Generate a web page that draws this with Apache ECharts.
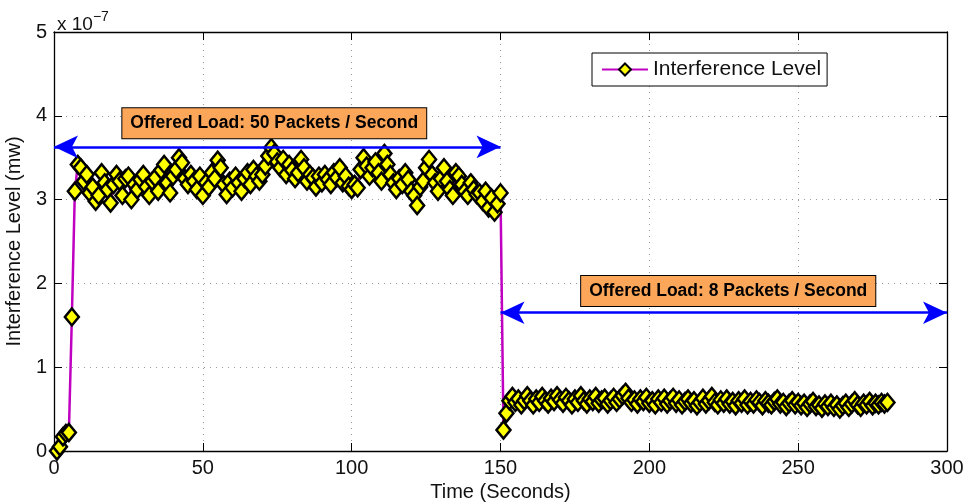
<!DOCTYPE html>
<html>
<head>
<meta charset="utf-8">
<script src="https://cdn.jsdelivr.net/npm/echarts@6/dist/echarts.min.js"></script>
<style>
  html, body { margin: 0; padding: 0; background: #fff; }
  #chart { width: 970px; height: 504px; }
</style>
</head>
<body>
<div id="chart"></div>
<script>
// Sample times (seconds) and interference level (units of 1e-7 mW)
const times = [];
for (let t = 1; t <= 280; t++) times.push(t);

const interference = [
  0.00, 0.05, 0.17, 0.21, 0.22, 1.60, 3.10, 3.42, 3.38, 3.22,
  3.30, 3.08, 3.15, 2.98, 3.05, 3.32, 3.20, 3.12, 2.96, 3.18,
  3.30, 3.22, 3.05, 3.25, 3.28, 3.00, 3.18, 3.12, 3.24, 3.30,
  3.15, 3.05, 3.22, 3.26, 3.10, 3.35, 3.42, 3.20, 3.08, 3.28,
  3.36, 3.50, 3.44, 3.25, 3.18, 3.30, 3.22, 3.12, 3.28, 3.05,
  3.20, 3.15, 3.32, 3.25, 3.47, 3.38, 3.18, 3.06, 3.22, 3.14,
  3.28, 3.20, 3.10, 3.25, 3.32, 3.18, 3.36, 3.28, 3.22, 3.30,
  3.40, 3.52, 3.62, 3.55, 3.45, 3.38, 3.48, 3.30, 3.42, 3.35,
  3.25, 3.32, 3.48, 3.38, 3.22, 3.30, 3.26, 3.15, 3.28, 3.20,
  3.30, 3.24, 3.18, 3.32, 3.26, 3.38, 3.20, 3.28, 3.16, 3.12,
  3.18, 3.14, 3.36, 3.50, 3.40, 3.28, 3.38, 3.45, 3.32, 3.22,
  3.55, 3.42, 3.30, 3.20, 3.12, 3.25, 3.18, 3.32, 3.24, 3.10,
  3.05, 2.93, 3.15, 3.22, 3.38, 3.48, 3.30, 3.20, 3.10, 3.25,
  3.38, 3.22, 3.12, 3.05, 3.32, 3.28, 3.18, 3.10, 3.05, 3.20,
  3.12, 3.06, 3.08, 2.98, 3.10, 2.90, 3.02, 2.85, 2.95, 3.08,
  0.25, 0.45, 0.60, 0.65, 0.58, 0.62, 0.55, 0.60, 0.66, 0.60,
  0.55, 0.62, 0.58, 0.65, 0.60, 0.56, 0.63, 0.59, 0.66, 0.61,
  0.57, 0.64, 0.60, 0.55, 0.62, 0.58, 0.66, 0.60, 0.56, 0.62,
  0.59, 0.65, 0.57, 0.61, 0.63, 0.56, 0.60, 0.64, 0.58, 0.62,
  0.66, 0.70, 0.63, 0.58, 0.61, 0.56, 0.62, 0.59, 0.64, 0.57,
  0.60, 0.55, 0.62, 0.58, 0.63, 0.56, 0.60, 0.64, 0.57, 0.61,
  0.55, 0.59, 0.62, 0.57, 0.60, 0.54, 0.58, 0.63, 0.56, 0.60,
  0.65, 0.58, 0.55, 0.61, 0.57, 0.62, 0.56, 0.59, 0.54, 0.60,
  0.57, 0.62, 0.55, 0.59, 0.56, 0.61, 0.58, 0.54, 0.60, 0.57,
  0.55, 0.59, 0.62, 0.56, 0.58, 0.53, 0.57, 0.60, 0.55, 0.58,
  0.54, 0.57, 0.52, 0.56, 0.59, 0.53, 0.55, 0.51, 0.56, 0.53,
  0.57, 0.52, 0.55, 0.50, 0.54, 0.57, 0.52, 0.56, 0.60, 0.55,
  0.52, 0.57, 0.55, 0.59, 0.54, 0.57, 0.55, 0.58, 0.56, 0.58
];

// Offered-load periods: start, end, arrow level, label position, text
const loadStart = [0, 150];
const loadEnd = [150, 300];
const arrowLevel = [3.63, 1.65];
const labelX = [74, 226.5];
const labelY = [3.91, 1.91];
const loadText = ['Offered Load: 50 Packets / Second', 'Offered Load: 8 Packets / Second'];

const FONT = '"Liberation Sans", Arial, Helvetica, sans-serif';

const chart = echarts.init(document.getElementById('chart'), null, { renderer: 'canvas' });

const baseTick = { show: true, inside: true, length: 8, lineStyle: { color: '#000', width: 1 } };
const axisLine = { show: true, onZero: false, lineStyle: { color: '#000', width: 1.3 } };
const gridLine = { show: true, lineStyle: { color: '#999', type: [1, 5], width: 1 } };
const textBase = { fontFamily: FONT, fontSize: 20, color: '#111' };

const option = {
  animation: false,
  backgroundColor: '#fff',
  grid: { left: 54, right: 23, top: 32, bottom: 53, outerBoundsMode: 'none', containLabel: false },
  legend: {
    data: ['Interference Level'],
    left: 592,
    top: 53,
    orient: 'horizontal',
    backgroundColor: '#fff',
    borderColor: '#000',
    borderWidth: 1,
    padding: [6, 6, 6, 9],
    itemWidth: 46,
    itemHeight: 15,
    itemGap: 6,
    textStyle: { fontFamily: FONT, fontSize: 21, color: '#111' }
  },
  xAxis: [
    {
      type: 'value', min: 0, max: 300, interval: 50,
      name: 'Time (Seconds)', nameLocation: 'middle', nameGap: 30,
      nameTextStyle: textBase,
      axisLine: axisLine, axisTick: baseTick,
      axisLabel: Object.assign({ margin: 7 }, textBase),
      splitLine: gridLine
    },
    {
      type: 'value', min: 0, max: 300, interval: 50, position: 'top',
      axisLine: axisLine, axisTick: baseTick, axisLabel: { show: false },
      splitLine: { show: false }
    }
  ],
  yAxis: [
    {
      type: 'value', min: 0, max: 5, interval: 1,
      name: 'Interference Level (mw)', nameLocation: 'middle', nameGap: 24,
      nameTextStyle: textBase,
      axisLine: axisLine, axisTick: baseTick,
      axisLabel: Object.assign({ margin: 7 }, textBase),
      splitLine: gridLine
    },
    {
      type: 'value', min: 0, max: 5, interval: 1, position: 'right',
      axisLine: axisLine, axisTick: baseTick, axisLabel: { show: false },
      splitLine: { show: false }
    }
  ],
  series: [
    {
      name: 'Interference Level',
      type: 'line',
      xAxisIndex: 0, yAxisIndex: 0,
      data: times.map((t, i) => [t, interference[i]]),
      symbol: 'diamond',
      symbolSize: [14, 17],
      showAllSymbol: true,
      lineStyle: { color: '#c000c0', width: 2.5 },
      itemStyle: { color: '#ffff00', borderColor: '#000', borderWidth: 2.5 },
      z: 3
    },
    {
      // double-headed arrows marking each offered-load period
      name: 'periods',
      type: 'line',
      xAxisIndex: 0, yAxisIndex: 0,
      data: [],
      silent: true,
      markLine: {
        silent: true,
        symbol: ['arrow', 'arrow'],
        symbolSize: [17, 24],
        label: { show: false },
        lineStyle: { color: '#0000ff', width: 2.5, type: 'solid' },
        data: loadStart.map((s, i) => [
          { coord: [s, arrowLevel[i]] },
          { coord: [loadEnd[i], arrowLevel[i]] }
        ])
      },
      z: 4
    },
    {
      // text boxes describing each offered load
      name: 'loadLabels',
      type: 'scatter',
      xAxisIndex: 0, yAxisIndex: 0,
      symbolSize: 0,
      silent: true,
      itemStyle: { opacity: 1 },
      data: labelX.map((x, i) => ({ value: [x, labelY[i]], name: loadText[i] })),
      label: {
        show: true,
        position: 'inside',
        opacity: 1,
        formatter: p => p.name,
        fontFamily: FONT,
        fontSize: 17.5,
        fontWeight: 'bold',
        color: '#000',
        backgroundColor: '#fca65a',
        borderColor: '#000',
        borderWidth: 1,
        padding: [7, 8, 5, 8]
      },
      z: 5
    }
  ],
  graphic: [
    {
      type: 'text',
      left: 57,
      top: 10,
      style: {
        text: '{b|x 10}{s|−7}',
        rich: {
          b: { fontFamily: FONT, fontSize: 19, fill: '#111', verticalAlign: 'bottom', lineHeight: 24 },
          s: { fontFamily: FONT, fontSize: 14, fill: '#111', verticalAlign: 'top', lineHeight: 16, padding: [0, 0, 10, 0] }
        }
      }
    }
  ]
};

chart.setOption(option);
</script>
</body>
</html>
